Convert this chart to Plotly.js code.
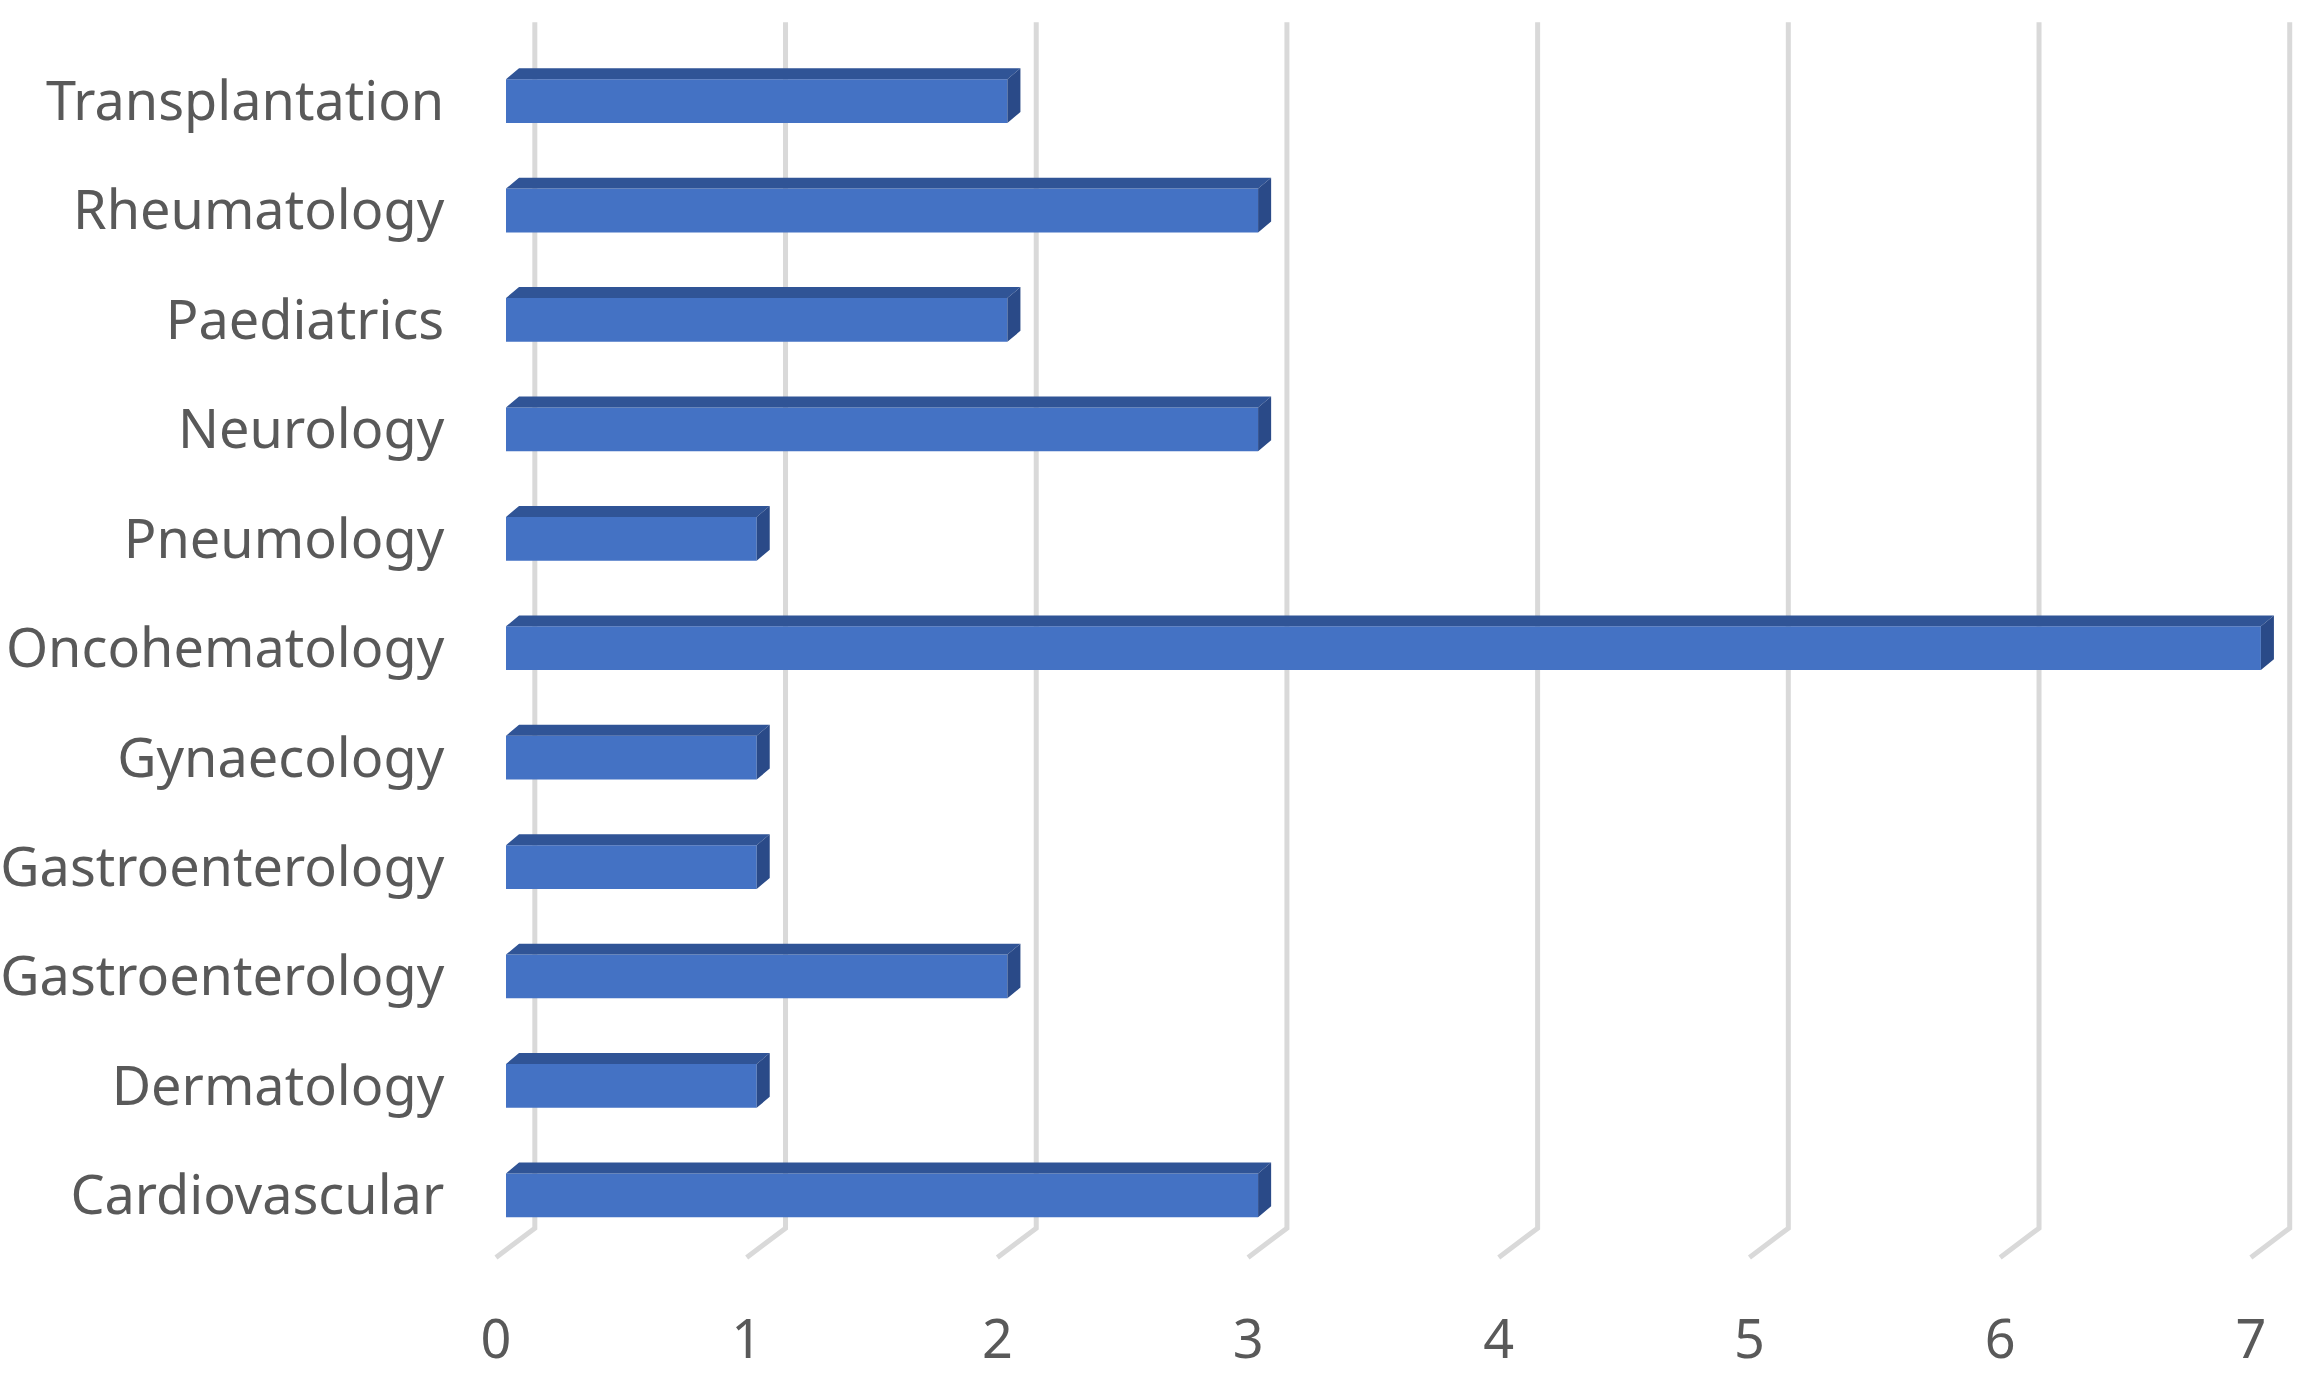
<!DOCTYPE html>
<html><head><meta charset="utf-8">
<script src="https://cdn.plot.ly/plotly-3.0.1.min.js"></script>
<style>html,body{margin:0;padding:0;background:#fff}#chart{width:2313px;height:1375px}</style>
</head><body><div id="chart"></div>
<script>
// ---- data (bottom to top) ----
const categories = ["Cardiovascular","Dermatology","Gastroenterology","Gastroenterology","Gynaecology","Oncohematology","Pneumology","Neurology","Paediatrics","Rheumatology","Transplantation"];
const values = [3,1,2,1,1,7,1,3,2,3,2];
const xTickValues = [0,1,2,3,4,5,6,7];
const xTickLabels = ["0","1","2","3","4","5","6","7"];

// ---- style constants ----
const positions = categories.map((c,i)=>i);
const BAR_W = 0.4, DX = 0.052, DY = 0.1;
const GRID_BACK = 0.115, GRID_FRONT = -0.04;
const GRID_TOP = 10.72, GRID_BOT = -0.30, GRID_FOOT = -0.567;
const FRONT = '#4472C4', TOP = '#305496', SIDE = '#2A4A88';
const FONT = {family:'Noto Sans, Open Sans, sans-serif', size:54, color:'#595959'};

// top faces and side faces as filled polygons computed from values
const topX = [], topY = [], sideX = [], sideY = [];
values.forEach((v,i)=>{
  const yt = positions[i] + BAR_W/2, yb = positions[i] - BAR_W/2;
  topX.push(0, v, v+DX, DX, 0, null);
  topY.push(yt, yt, yt+DY, yt+DY, yt, null);
  sideX.push(v, v, v+DX, v+DX, v, null);
  sideY.push(yb, yt, yt+DY, yb+DY, yb, null);
});

const data = [
  {type:'bar', orientation:'h', x:values, y:positions, base:0, width:BAR_W,
   marker:{color:FRONT, line:{width:0}}, hoverinfo:'skip'},
  {type:'scatter', mode:'lines', x:topX, y:topY, fill:'toself', fillcolor:TOP,
   line:{width:0, color:TOP}, hoverinfo:'skip', connectgaps:false},
  {type:'scatter', mode:'lines', x:sideX, y:sideY, fill:'toself', fillcolor:SIDE,
   line:{width:0, color:SIDE}, hoverinfo:'skip', connectgaps:false}
];

const shapes = xTickValues.map(t => ({
  type:'path', xref:'x', yref:'y', layer:'below',
  path:`M ${t+GRID_BACK} ${GRID_TOP} L ${t+GRID_BACK} ${GRID_BOT} L ${t+GRID_FRONT} ${GRID_FOOT}`,
  line:{color:'#D9D9D9', width:5}
}));

const layout = {
  width:2313, height:1375,
  margin:{l:480, r:12, t:19, b:114, pad:0},
  paper_bgcolor:'#ffffff', plot_bgcolor:'#ffffff',
  showlegend:false,
  shapes: shapes,
  xaxis:{range:[-0.1037, 7.16], showgrid:false, zeroline:false, showline:false,
    tickmode:'array', tickvals:xTickValues.map(t=>t+GRID_FRONT), ticktext:xTickLabels,
    ticks:'outside', ticklen:31, tickcolor:'rgba(0,0,0,0)', tickfont:FONT, automargin:false, fixedrange:true},
  yaxis:{range:[-0.6, 10.75], showgrid:false, zeroline:false, showline:false,
    tickmode:'array', tickvals:positions, ticktext:categories,
    ticks:'outside', ticklen:24, tickcolor:'rgba(0,0,0,0)', tickfont:FONT, automargin:false, fixedrange:true}
};

Plotly.newPlot('chart', data, layout, {displayModeBar:false, staticPlot:true});
</script>
</body></html>
